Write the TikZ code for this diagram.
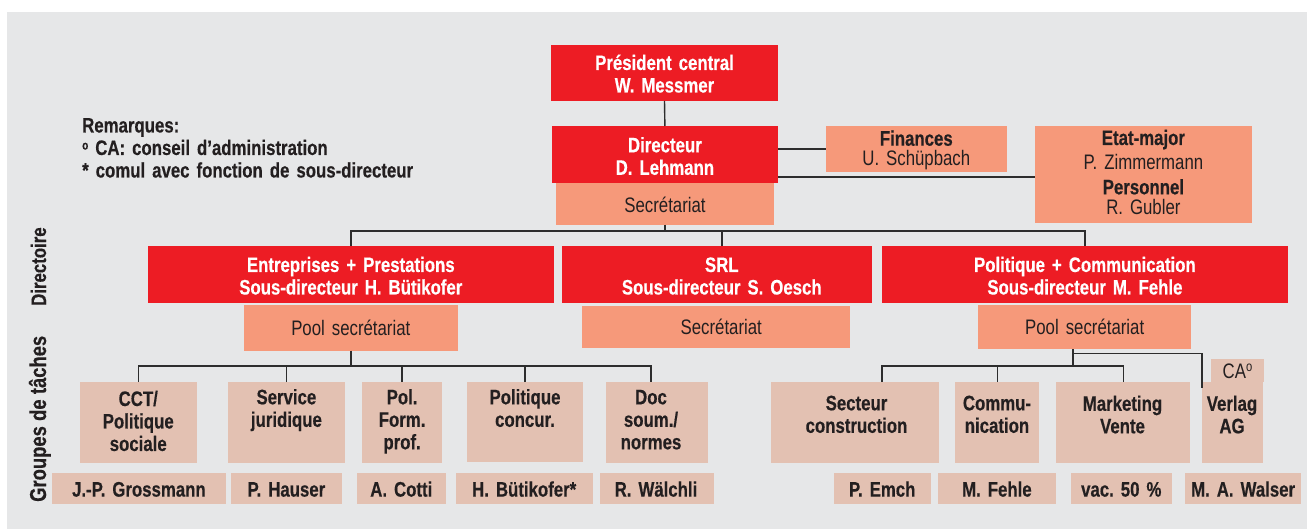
\documentclass[tikz,border=0pt]{standalone}
\usepackage{fontspec}
\setmainfont{Liberation Sans}[FakeStretch=0.8, BoldFeatures={FakeBold=0.4}]
\definecolor{bgc}{RGB}{230,231,232}
\definecolor{redc}{RGB}{237,28,36}
\definecolor{salm}{RGB}{246,153,122}
\definecolor{beig}{RGB}{227,193,178}
\definecolor{ink}{RGB}{35,31,32}
\definecolor{linec}{RGB}{45,45,45}
\newcommand\ff[2]{\fontsize{#1}{#2}\selectfont\frenchspacing\spaceskip=0.23em plus 0.08em minus 0.04em\relax}
\tikzset{
  box/.style={draw=none, inner sep=0pt, outer sep=0pt, rectangle},
  txt/.style={inner sep=0pt, outer sep=0pt, text width=320pt, align=center, anchor=base, text=ink, font=\ff{21}{22.5}},
  wb/.style={txt, text=white, font=\ff{21}{22.5}\bfseries},
  db/.style={txt, font=\ff{21}{22.5}\bfseries},
  dr/.style={txt},
  conn/.style={draw=linec, line width=1.4pt},
}
\newcommand\bx[6]{\node[box,fill=#6,minimum width={(#4-#2)*1pt},minimum height={(#5-#3)*1pt}] (#1) at ({(#2+#4)/2},{(#3+#5)/2}) {};}
\newcommand\tx[5]{\node[#4] (#1) at (#2,#3) {#5};}
\newcommand\ordo[2]{\raisebox{#1}{\fontsize{#2}{#2}\selectfont o}}
\begin{document}
\begin{tikzpicture}[x=1pt,y=-1pt]
\useasboundingbox (0,0) rectangle (1307,529);
\fill[white] (0,0) rectangle (1307,529);
\fill[bgc] (7,12) rectangle (1307,528.5);
% remarks
\node[anchor=base west, inner sep=0pt, text width=400pt, align=left, text=ink, font=\ff{21}{22.5}\bfseries] (rem) at (82,132.5)
  {Remarques:\\\ordo{5.5pt}{12.5} CA: conseil d’administration\\{}* comul avec fonction de sous-directeur};
% side labels
\node[rotate=90, anchor=base west, inner sep=0pt, text=ink, font=\ff{21}{22}\bfseries] (lab1) at (46,306) {Directoire};
\node[rotate=90, anchor=base west, inner sep=0pt, text=ink, font=\ff{23}{24}\bfseries] (lab2) at (46,502) {Groupes de tâches};
% top level boxes
\bx{pres}{551}{45}{778}{101}{redc}
\bx{dir}{552}{126}{777.8}{182.7}{redc}
\bx{sec}{556}{182.7}{774}{224.7}{salm}
\bx{fin}{825.9}{126}{1006.7}{172}{salm}
\bx{etat}{1035}{126}{1251.7}{223}{salm}
\tx{presT}{664.5}{70}{wb}{Président central\\W. Messmer}
\tx{dirT}{664.9}{152.3}{wb}{Directeur\\D. Lehmann}
\tx{secT}{665}{213}{dr}{Secrétariat}
\tx{finT}{916.3}{145.7}{dr}{\textbf{Finances}\\[-2.2pt]U. Schüpbach}
\tx{etatT}{1143.4}{145}{dr}{\textbf{Etat-major}\\[1.8pt]P. Zimmermann\\[2.5pt]\textbf{Personnel}\\[-1.8pt]R. Gubler}
% second level
\bx{ep}{148.1}{246}{553.5}{303}{redc}
\bx{srl}{561.9}{246}{871.8}{303}{redc}
\bx{pc}{882}{246}{1287.8}{303}{redc}
\bx{ps1}{244.1}{305}{457.5}{350.7}{salm}
\bx{sec2}{581.6}{305.7}{849.7}{348.3}{salm}
\bx{ps2}{978.2}{305}{1191.3}{349.3}{salm}
\tx{epT}{350.8}{272}{wb}{Entreprises + Prestations\\Sous-directeur H. Bütikofer}
\tx{srlT}{721.8}{272}{wb}{SRL\\Sous-directeur S. Oesch}
\tx{pcT}{1084.9}{272}{wb}{Politique + Communication\\Sous-directeur M. Fehle}
\tx{ps1T}{350.8}{335.5}{dr}{Pool secrétariat}
\tx{sec2T}{721.3}{334.5}{dr}{Secrétariat}
\tx{ps2T}{1084.7}{334.5}{dr}{Pool secrétariat}
% task groups
\bx{cct}{80}{382}{196.5}{463}{beig}
\bx{serv}{228.1}{382}{344.7}{463}{beig}
\bx{pol}{362}{382}{442.3}{463}{beig}
\bx{conc}{466.8}{382}{583.3}{462}{beig}
\bx{doc}{606}{382}{707.6}{463}{beig}
\bx{sect}{771}{382}{939.4}{463}{beig}
\bx{comm}{955.2}{382}{1039.4}{463}{beig}
\bx{mark}{1056}{382}{1190.4}{463}{beig}
\bx{verl}{1202}{382}{1263}{463}{beig}
\bx{ca}{1211}{359}{1264}{381.7}{beig}
\tx{cctT}{138.25}{406}{db}{CCT/\\Politique\\sociale}
\tx{servT}{286.4}{404.3}{db}{Service\\juridique}
\tx{polT}{402.1}{404.3}{db}{Pol.\\Form.\\prof.}
\tx{concT}{525}{404.3}{db}{Politique\\concur.}
\tx{docT}{651}{404.3}{db}{Doc\\soum./\\normes}
\tx{sectT}{856.5}{410.3}{db}{Secteur\\construction}
\tx{commT}{997}{410.3}{db}{Commu-\\nication}
\tx{markT}{1122.5}{410.8}{db}{Marketing\\Vente}
\tx{verlT}{1232}{410.8}{db}{Verlag\\AG}
\tx{caT}{1237.5}{378.6}{dr}{CA\ordo{7.4pt}{14}}
% names
\bx{n1}{52.2}{473}{225.6}{503.7}{beig}
\bx{n2}{231}{473}{341.8}{503.7}{beig}
\bx{n3}{356.9}{473}{445.7}{503.7}{beig}
\bx{n4}{455.8}{473}{592.6}{503.7}{beig}
\bx{n5}{599.7}{473}{713.6}{503.7}{beig}
\bx{n6}{834}{473}{930.5}{503.7}{beig}
\bx{n7}{938.2}{473}{1055.6}{503.7}{beig}
\bx{n8}{1070.9}{473}{1171.7}{503.7}{beig}
\bx{n9}{1184.9}{473}{1301.4}{503.7}{beig}
\tx{n1T}{138.9}{496.6}{db}{J.-P. Grossmann}
\tx{n2T}{286.4}{496.6}{db}{P. Hauser}
\tx{n3T}{401.3}{496.6}{db}{A. Cotti}
\tx{n4T}{524.2}{496.6}{db}{H. Bütikofer*}
\tx{n5T}{656}{496.6}{db}{R. Wälchli}
\tx{n6T}{882.2}{496.6}{db}{P. Emch}
\tx{n7T}{996.9}{496.6}{db}{M. Fehle}
\tx{n8T}{1121.3}{496.6}{db}{vac. 50 \%}
\tx{n9T}{1243.1}{496.6}{db}{M. A. Walser}
% connectors
\coordinate (bus) at (0,231);
\coordinate (busl) at (0,366);
\coordinate (busr) at (0,366);
\draw[conn] (pres.south) -- (dir.north);
\draw[conn] (dir.east |- fin.west) -- (fin.west);
\draw[conn] (dir.east |- 0,177) -- (etat.west |- 0,177);
\draw[conn] (sec.south) -- (sec.south |- bus);
\draw[conn] (ep.north) -- (ep.north |- bus) -| (pc.north);
\draw[conn] (srlT |- srl.north) -- (srlT |- bus);
\draw[conn] (ps1.south) -- (ps1.south |- busl);
\draw[conn] (cct.north) -- (cct.north |- busl) -| (docT |- doc.north);
\draw[conn] (serv.north) -- (serv.north |- busl);
\draw[conn] (pol.north) -- (pol.north |- busl);
\draw[conn] (conc.north) -- (conc.north |- busl);
\draw[conn] ([xshift=-11.75pt]ps2.south) coordinate (pd) -- (pd |- busr);
\draw[conn] ([xshift=26.8pt]sect.north) coordinate (sd) -- (sd |- busr) -| (mark.north);
\draw[conn] (comm.north) -- (comm.north |- busr);
\draw[conn] (pd |- 0,353.3) -| ([yshift=-5.7pt]verl.north west);
\end{tikzpicture}
\end{document}
